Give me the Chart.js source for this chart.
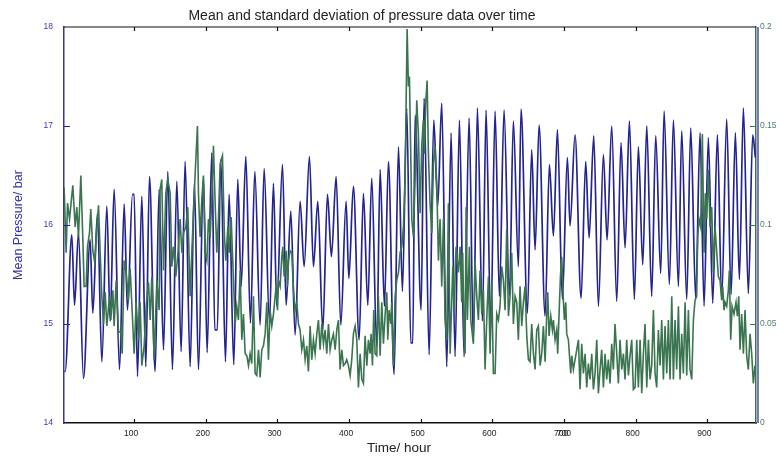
<!DOCTYPE html>
<html>
<head>
<meta charset="utf-8">
<title>Mean and standard deviation of pressure data over time</title>
<script src="https://cdn.jsdelivr.net/npm/chart.js@4"></script>
<style>
  html, body { margin: 0; padding: 0; background: #fff; }
  #wrap { width: 778px; height: 460px; }
</style>
</head>
<body>
<div id="wrap"><canvas id="pressureChart" width="778" height="460"></canvas></div>
<script>
const chartTitle = "Mean and standard deviation of pressure data over time";
const xAxisLabel = "Time/ hour";
const yAxisLabel = "Mean Pressure/ bar";

const xTickValues = [100, 200, 300, 400, 500, 600, 700, 800, 900];
// the 700 label is printed twice, slightly shifted, in the original
const xGhostTick = 704;
const leftTickValues = [14, 15, 16, 17, 18];
const rightTickValues = [0, 0.05, 0.1, 0.15, 0.2];

// mean pressure (bar) at the turning points
const blueHours = [
  2.5, 3.6, 12.9, 16.7, 22.2, 29.2, 38.5, 42.2, 48.7, 54.8, 61.8, 66.4, 72.0, 79.5, 86.0, 90.6, 97.6, 99.9,
  104.6, 110.6, 116.2, 121.3, 129.2, 134.8, 140.9, 146.9, 153.4, 159.5, 165.5, 171.1, 178.1, 184.1, 189.7,
  196.7, 201.8, 208.3, 212.5, 216.0, 220.9, 227.4, 232.5, 239.0, 244.6, 249.3, 255.8, 262.3, 268.4, 275.8,
  281.4, 288.8, 294.4, 299.0, 307.0, 312.1, 318.6, 324.6, 331.6, 337.2, 344.6, 350.2, 356.3, 363.2, 369.8,
  375.3, 381.9, 388.4, 395.8, 399.6, 406.0, 414.0, 420.0, 426.1, 431.6, 438.6, 443.3, 449.3, 454.9, 462.8,
  468.9, 474.4, 480.5, 486.1, 488.9, 492.1, 500.5, 504.7, 511.7, 518.2, 523.7, 529.3, 536.3, 542.4, 547.9,
  554.0, 560.5, 567.5, 573.5, 579.1, 586.1, 591.2, 597.7, 603.8, 609.8, 616.3, 623.8, 629.3, 636.3, 640.0,
  648.9, 654.9, 659.6, 665.2, 673.6, 679.6, 685.2, 690.8, 697.7, 704.7, 708.4, 715.4, 723.8, 730.3, 735.0,
  741.5, 748.0, 755.0, 760.1, 766.6, 773.6, 779.6, 785.2, 791.3, 798.2, 803.8, 809.9, 815.5, 822.4, 828.0,
  835.0, 839.7, 847.1, 852.7, 859.7, 864.3, 871.3, 876.9, 883.8, 889.9, 895.5, 901.5, 907.6, 914.1, 920.1,
  927.1, 933.2, 939.2, 944.8, 950.4, 957.3, 963.4, 967.2
];
const blueMean = [
  14.52, 14.52, 15.90, 15.19, 15.92, 14.45, 15.85, 15.11, 16.12, 14.62, 16.19, 15.03, 16.36, 14.54, 16.21, 15.14, 16.31, 16.31,
  14.47, 16.29, 14.57, 16.49, 14.52, 16.36, 14.74, 16.54, 14.54, 16.44, 14.72, 16.64, 14.57, 16.42, 14.54,
  16.49, 14.71, 16.73, 14.94, 14.94, 16.66, 14.62, 16.31, 14.59, 16.46, 15.38, 16.69, 15.01, 16.54, 14.99,
  16.57, 15.01, 16.42, 15.18, 16.61, 15.19, 16.14, 14.89, 16.24, 15.58, 16.69, 15.58, 16.24, 14.93, 16.31,
  15.68, 16.49, 14.99, 16.24, 15.46, 16.39, 14.84, 16.32, 15.19, 16.47, 14.77, 16.56, 15.18, 16.64, 14.49,
  16.79, 15.33, 17.18, 14.81, 14.81, 17.11, 15.14, 17.28, 14.69, 17.06, 16.19, 17.23, 14.57, 16.93, 14.67,
  17.06, 14.67, 17.08, 14.82, 17.18, 15.03, 17.16, 14.96, 17.15, 15.28, 17.16, 15.28, 17.05, 15.58, 17.17,
  15.11, 16.76, 15.75, 17.01, 15.08, 16.61, 15.89, 16.96, 15.25, 16.68, 15.99, 16.91, 15.26, 16.64, 15.87,
  16.90, 15.18, 16.71, 15.85, 17.00, 15.23, 16.83, 15.77, 17.05, 15.25, 16.79, 15.60, 17.00, 15.28, 16.90,
  15.51, 17.15, 15.40, 17.06, 15.38, 16.95, 15.25, 16.98, 15.26, 16.93, 15.18, 16.88, 15.21, 16.91, 15.25,
  17.07, 15.30, 16.93, 15.45, 17.18, 15.31, 16.91, 16.68
];

// standard deviation (bar)
const greenHours = [
  2.2, 5.0, 6.9, 9.7, 14.3, 17.6, 19.9, 22.2, 25.5, 28.3, 30.1, 32.9, 34.8, 37.6, 39.4, 42.2, 45.0, 46.9, 50.2,
  52.5, 54.8, 57.1, 59.5, 61.8, 65.5, 67.4, 70.2, 72.0, 74.8, 78.1, 81.3, 83.2, 86.0, 88.8, 92.0, 94.3, 97.1,
  99.9, 102.7, 106.0, 108.3, 110.6, 113.9, 116.7, 120.0, 122.3, 124.6, 127.8, 131.6, 134.8,
  136.2, 138.5, 140.9, 144.1, 146.9, 150.2, 152.5, 154.8, 158.1, 161.8, 164.1, 166.5, 168.8, 172.0, 174.8,
  178.1, 180.4, 182.7, 185.1, 188.3, 189.7, 192.0, 194.4, 196.7, 199.0, 201.4, 203.7, 206.0, 208.3, 210.6,
  213.0, 215.3, 217.6, 220.0, 223.2, 226.0, 227.9, 230.7, 232.5, 235.3, 238.6, 240.9, 243.2, 245.5, 247.9,
  250.2, 252.5, 254.9, 257.2, 259.5, 261.8, 264.1,
  266.5, 268.8, 271.1, 273.5, 275.8, 278.1, 280.4, 282.8, 285.1, 287.4, 289.7, 292.1, 294.4, 298.1, 300.0,
  301.4, 303.7, 306.0, 307.4, 309.3, 312.1, 313.9, 315.3, 317.7, 320.0, 322.3, 324.6, 327.0, 329.3, 331.6,
  333.9, 336.3, 338.6, 340.9, 343.2, 345.6, 347.9, 350.2, 352.5, 354.9, 357.2, 359.5, 361.9, 364.2, 366.5,
  368.8, 371.2, 373.5, 375.8, 378.1, 380.5, 382.8, 385.1, 387.4, 389.8, 392.1, 394.4, 396.7, 399.1,
  401.4, 403.7, 406.0, 408.4, 410.7, 413.0, 415.4, 417.7, 420.0, 422.3, 424.7, 427.0, 429.3, 430.7, 432.6,
  434.4, 436.3, 438.6, 440.9, 443.3, 445.6, 447.9, 450.3, 452.6, 454.0, 455.8, 458.2, 459.5, 461.9, 464.2,
  466.5, 468.9, 471.2, 473.5, 475.8, 478.2, 479.6, 481.0, 482.8, 484.2, 485.6, 487.5, 489.8, 492.1, 494.4,
  496.8, 499.1, 501.4, 503.7, 505.1, 507.0, 508.9, 510.7, 513.0, 515.4, 517.7, 520.0, 522.4, 524.7, 527.0,
  529.3, 531.7,
  534.0, 536.3, 538.6, 541.0, 543.3, 544.7, 546.5, 549.3, 552.6, 554.9, 557.2, 558.6, 560.5, 561.9, 563.3,
  565.1, 567.9, 569.8, 573.5, 575.8, 578.2, 580.5, 582.8, 585.2, 587.5, 589.8, 592.1, 594.5, 596.8, 599.1,
  601.4, 603.8, 606.1, 608.4, 610.7, 613.1, 615.4, 617.7, 620.0, 622.4, 624.7, 627.0, 629.3, 631.7, 634.0,
  636.3, 638.6, 641.0, 643.3, 645.6, 648.0, 650.3, 652.6, 654.9, 657.3, 659.6, 661.9, 664.2, 666.6,
  668.9, 671.2, 673.6, 675.9, 677.3, 679.1, 681.5, 683.8, 685.2, 687.5, 689.8, 691.2, 693.1, 695.0, 696.8,
  699.1, 700.5, 702.4, 703.8, 706.1, 709.4, 710.8, 713.1, 715.4, 717.8, 720.1, 722.4, 724.7, 727.1, 729.4,
  731.7, 734.0, 736.4, 738.7, 741.0, 743.3, 745.7, 748.0, 750.3, 752.6, 755.0, 757.3, 759.6, 761.9, 764.3,
  766.6, 768.9, 771.2, 773.6, 775.9, 778.2, 780.6, 782.9, 785.2, 787.5, 789.9, 792.2, 794.5, 796.8,
  799.2, 801.5, 803.8, 806.2, 808.5, 810.8, 813.1, 815.5, 817.8, 820.1, 822.4, 824.8, 827.1, 829.4, 831.7,
  834.1, 836.4, 838.7, 841.0, 843.4, 845.7, 848.0, 850.4, 852.7, 855.0, 857.3, 859.7, 862.0, 864.3, 866.6,
  869.0, 871.3, 873.6, 875.9, 878.3, 880.6, 882.9, 885.2, 886.6, 888.5, 890.8, 893.1, 895.5, 897.3, 899.2,
  901.5, 903.8, 906.2, 908.5, 910.8, 913.2, 915.5, 917.8, 920.1, 921.5, 923.4, 924.8, 927.1, 929.4, 930.8,
  932.7, 934.6, 937.3, 940.1, 942.0, 943.9, 945.7, 948.0, 950.4, 952.7, 955.0, 957.3, 959.7, 962.0, 964.3,
  966.6
];
const greenStd = [
  0.119, 0.086, 0.111, 0.103, 0.120, 0.099, 0.109, 0.094, 0.125, 0.093, 0.069, 0.069, 0.089, 0.096, 0.108, 0.087, 0.081, 0.094, 0.110,
  0.086, 0.064, 0.050, 0.066, 0.049, 0.064, 0.052, 0.067, 0.049, 0.072, 0.046, 0.046, 0.035, 0.082, 0.076, 0.062, 0.078, 0.057,
  0.035, 0.061, 0.042, 0.061, 0.029, 0.039, 0.059, 0.071, 0.052, 0.074, 0.032, 0.072, 0.057,
  0.118, 0.123, 0.077, 0.116, 0.123, 0.116, 0.079, 0.089, 0.074, 0.089, 0.103, 0.086, 0.096, 0.099, 0.109,
  0.064, 0.086, 0.106, 0.126, 0.150, 0.116, 0.094, 0.113, 0.125, 0.086, 0.082, 0.103, 0.094, 0.113, 0.140,
  0.111, 0.086, 0.103, 0.131, 0.135, 0.094, 0.082, 0.099, 0.086, 0.104, 0.072, 0.050, 0.059, 0.052, 0.077,
  0.042, 0.055, 0.035, 0.034, 0.029, 0.035, 0.030,
  0.064, 0.025, 0.024, 0.037, 0.023, 0.037, 0.039, 0.045, 0.061, 0.032, 0.057, 0.049, 0.055, 0.069, 0.057,
  0.072, 0.069, 0.084, 0.089, 0.074, 0.087, 0.069, 0.082, 0.087, 0.086, 0.067, 0.057, 0.061, 0.050, 0.047,
  0.037, 0.042, 0.032, 0.039, 0.026, 0.049, 0.032, 0.042, 0.035, 0.045, 0.052, 0.037, 0.050, 0.040, 0.047,
  0.035, 0.050, 0.037, 0.042, 0.045, 0.037, 0.047, 0.052, 0.027, 0.037, 0.029, 0.030, 0.032, 0.029,
  0.024, 0.032, 0.045, 0.049, 0.042, 0.018, 0.035, 0.022, 0.020, 0.044, 0.029, 0.042, 0.035, 0.045, 0.029,
  0.057, 0.035, 0.034, 0.064, 0.034, 0.061, 0.040, 0.055, 0.066, 0.042, 0.057, 0.050, 0.061, 0.029, 0.064,
  0.072, 0.076, 0.086, 0.089, 0.099, 0.123, 0.162, 0.199, 0.170, 0.175, 0.145, 0.103, 0.094, 0.123, 0.163,
  0.145, 0.106, 0.140, 0.153, 0.136, 0.162, 0.173, 0.136, 0.111, 0.096, 0.131, 0.140, 0.120, 0.082, 0.103,
  0.069, 0.103,
  0.052, 0.042, 0.111, 0.035, 0.062, 0.079, 0.057, 0.089, 0.076, 0.089, 0.061, 0.086, 0.044, 0.035, 0.109,
  0.052, 0.089, 0.052, 0.040, 0.082, 0.064, 0.052, 0.077, 0.055, 0.067, 0.027, 0.052, 0.074, 0.035, 0.071,
  0.025, 0.025, 0.055, 0.052, 0.059, 0.079, 0.072, 0.057, 0.098, 0.054, 0.064, 0.086, 0.050, 0.064, 0.061,
  0.042, 0.069, 0.049, 0.061, 0.069, 0.044, 0.032, 0.031, 0.050, 0.035, 0.027, 0.047, 0.049, 0.029,
  0.035, 0.049, 0.031, 0.055, 0.066, 0.044, 0.054, 0.047, 0.052, 0.042, 0.047, 0.035, 0.055, 0.074, 0.084,
  0.062, 0.052, 0.061, 0.045, 0.042, 0.025, 0.034, 0.027, 0.032, 0.037, 0.042, 0.017, 0.040, 0.025, 0.035,
  0.018, 0.030, 0.022, 0.035, 0.017, 0.025, 0.042, 0.015, 0.027, 0.037, 0.018, 0.035, 0.022, 0.032, 0.020,
  0.040, 0.027, 0.050, 0.035, 0.020, 0.042, 0.027, 0.035, 0.022, 0.042, 0.024, 0.034, 0.042, 0.017,
  0.018, 0.042, 0.018, 0.042, 0.015, 0.035, 0.050, 0.018, 0.042, 0.022, 0.029, 0.057, 0.025, 0.018, 0.047,
  0.029, 0.052, 0.022, 0.049, 0.025, 0.052, 0.022, 0.064, 0.022, 0.052, 0.027, 0.059, 0.022, 0.045, 0.025,
  0.061, 0.024, 0.057, 0.027, 0.022, 0.052, 0.062, 0.064, 0.094, 0.103, 0.099, 0.146, 0.086, 0.116, 0.103,
  0.128, 0.099, 0.109, 0.076, 0.099, 0.086, 0.074, 0.072, 0.062, 0.069, 0.057, 0.061, 0.059, 0.067, 0.077,
  0.042, 0.059, 0.055, 0.061, 0.054, 0.064, 0.037, 0.055, 0.035, 0.057, 0.034, 0.027, 0.045, 0.035, 0.020,
  0.029
];

const blueColor = "#24248f";
const greenColor = "#3b7550";

Chart.defaults.font.family = '"Liberation Sans", Arial, sans-serif';

// inward tick marks, top frame line and the two free-standing labels
const framePlugin = {
  id: "frame",
  afterDraw(chart) {
    const ctx = chart.ctx;
    const a = chart.chartArea;
    const x = chart.scales.x, y = chart.scales.y, y1 = chart.scales.y1;
    ctx.save();
    ctx.lineWidth = 1.2;
    ctx.strokeStyle = "#111";
    ctx.beginPath();
    ctx.moveTo(a.left, a.top);
    ctx.lineTo(a.right, a.top);
    xTickValues.forEach((v) => {
      const px = Math.round(x.getPixelForValue(v)) + 0.5;
      ctx.moveTo(px, a.bottom);
      ctx.lineTo(px, a.bottom - 4);
      ctx.moveTo(px, a.top);
      ctx.lineTo(px, a.top + 4);
    });
    ctx.stroke();

    ctx.strokeStyle = blueColor;
    ctx.beginPath();
    leftTickValues.slice(1, -1).forEach((v) => {
      const py = Math.round(y.getPixelForValue(v)) + 0.5;
      ctx.moveTo(a.left, py);
      ctx.lineTo(a.left + 6, py);
    });
    ctx.moveTo(a.right + 2, a.top);
    ctx.lineTo(a.right + 2, a.bottom);
    ctx.stroke();

    ctx.strokeStyle = greenColor;
    ctx.beginPath();
    rightTickValues.slice(1, -1).forEach((v) => {
      const py = Math.round(y1.getPixelForValue(v)) + 0.5;
      ctx.moveTo(a.right, py);
      ctx.lineTo(a.right - 6, py);
    });
    ctx.stroke();

    ctx.fillStyle = "#222";
    ctx.textAlign = "center";
    ctx.textBaseline = "alphabetic";
    ctx.font = '14px "Liberation Sans", Arial, sans-serif';
    ctx.fillText(chartTitle, 362, 20);
    ctx.font = '13.5px "Liberation Sans", Arial, sans-serif';
    ctx.fillText(xAxisLabel, 399, 452);
    ctx.restore();
  }
};

const ctx = document.getElementById("pressureChart");

new Chart(ctx, {
  type: "line",
  data: {
    datasets: [
      {
        label: "Mean pressure",
        data: blueHours.map((h, i) => ({ x: h, y: blueMean[i] })),
        yAxisID: "y",
        borderColor: blueColor,
        borderWidth: 1.7,
        pointRadius: 0,
        cubicInterpolationMode: "monotone",
        order: 1
      },
      {
        label: "Standard deviation",
        data: greenHours.map((h, i) => ({ x: h, y: greenStd[i] })),
        yAxisID: "y1",
        borderColor: greenColor,
        borderWidth: 1.6,
        pointRadius: 0,
        tension: 0,
        order: 0
      }
    ]
  },
  options: {
    responsive: false,
    devicePixelRatio: 1,
    animation: false,
    layout: { padding: { top: 27, left: 0, right: 0, bottom: 0 } },
    plugins: {
      legend: { display: false },
      tooltip: { enabled: false },
      title: { display: false }
    },
    scales: {
      x: {
        type: "linear",
        position: "bottom",
        min: 2,
        max: 968,
        afterBuildTicks: (s) => {
          s.ticks = xTickValues.concat([xGhostTick]).map((v) => ({ value: v }));
        },
        afterFit: (s) => { s.height = 37; },
        grid: { display: false, drawTicks: false },
        border: { color: "#111", width: 1.5 },
        ticks: {
          color: "#222",
          padding: 6,
          labelOffset: -3,
          maxRotation: 0,
          autoSkip: false,
          font: { size: 8.5 },
          callback: (v) => (v === xGhostTick ? "700" : String(v))
        }
      },
      y: {
        position: "left",
        min: 14,
        max: 18,
        afterBuildTicks: (s) => { s.ticks = leftTickValues.map((v) => ({ value: v })); },
        afterFit: (s) => { s.width = 64; },
        grid: { display: false, drawTicks: false },
        border: { color: "#3434a4", width: 1.5 },
        ticks: { color: "#3a3aa8", padding: 11, font: { size: 8.5 }, callback: (v) => String(v) },
        title: {
          display: true,
          text: yAxisLabel,
          color: "#3434a4",
          font: { size: 12.5 },
          padding: { top: 11, bottom: 0 }
        }
      },
      y1: {
        position: "right",
        min: 0,
        max: 0.2,
        afterBuildTicks: (s) => { s.ticks = rightTickValues.map((v) => ({ value: v })); },
        afterFit: (s) => { s.width = 22; },
        grid: { display: false, drawTicks: false },
        border: { color: greenColor, width: 1.5 },
        ticks: { color: "#4a8462", padding: 4, font: { size: 8.5 }, callback: (v) => String(+v.toFixed(2)) }
      }
    }
  },
  plugins: [framePlugin]
});
</script>
</body>
</html>
